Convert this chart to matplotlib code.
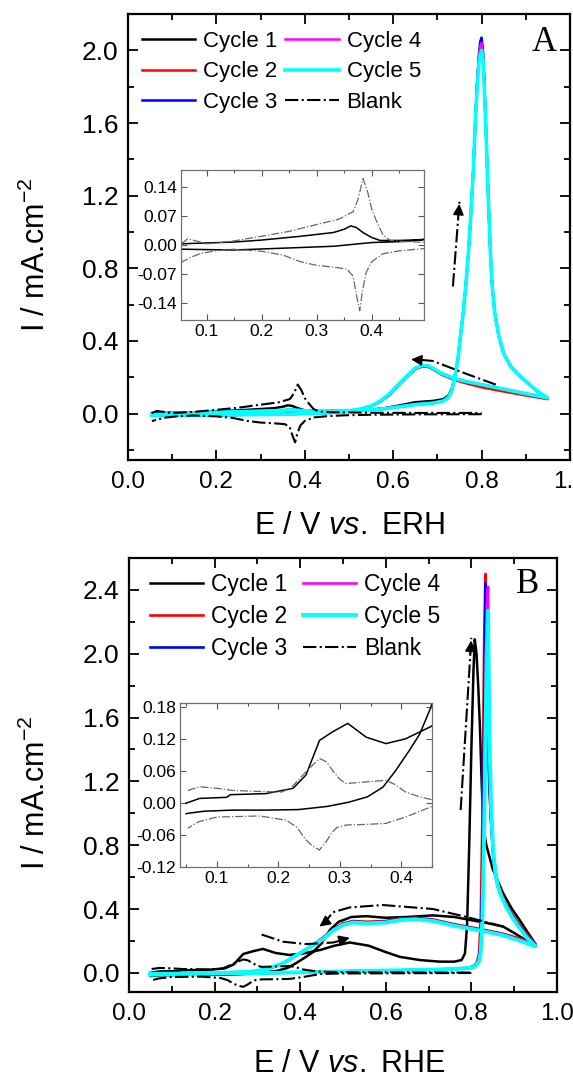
import matplotlib
matplotlib.use('Agg')
import matplotlib.pyplot as plt
from matplotlib.ticker import MultipleLocator, FormatStrFormatter

plt.rcParams['font.family'] = ['Liberation Sans', 'DejaVu Sans']
plt.rcParams['mathtext.fontset'] = 'custom'
plt.rcParams['mathtext.rm'] = 'Liberation Sans'
plt.rcParams['mathtext.it'] = 'Liberation Sans:italic'
plt.rcParams['mathtext.default'] = 'regular'

# ---------------- panel A data ----------------
E_A_fwd = [0.054, 0.10, 0.148, 0.20, 0.27, 0.33, 0.35, 0.362, 0.372, 0.384, 0.40, 0.415, 0.45, 0.49,
           0.54, 0.58, 0.62, 0.65, 0.69,
           0.714, 0.725, 0.733, 0.741, 0.747, 0.752, 0.758, 0.764, 0.77, 0.775, 0.781, 0.786, 0.79,
           0.794, 0.797, 0.80, 0.803, 0.806, 0.809, 0.813, 0.817, 0.82, 0.824, 0.83, 0.839, 0.85,
           0.866, 0.885, 0.904, 0.925, 0.949]
E_A_rev = [0.949, 0.90, 0.85, 0.80, 0.76, 0.737, 0.71, 0.69, 0.677, 0.665, 0.65, 0.63, 0.61, 0.59,
           0.57, 0.55, 0.52, 0.49, 0.45, 0.40, 0.33, 0.25, 0.148, 0.10, 0.054]

A_c1_fwd = [0.003, 0.005, 0.007, 0.012, 0.021, 0.03, 0.038, 0.046, 0.042, 0.03, 0.018, 0.011, 0.011, 0.013,
            0.02, 0.03, 0.048, 0.063, 0.07,
            0.08, 0.1, 0.14, 0.225, 0.31, 0.426, 0.55, 0.70, 0.88, 1.07, 1.33, 1.62, 1.82,
            1.95, 2.0, 2.02, 1.97, 1.82, 1.62, 1.33, 1.07, 0.88, 0.70, 0.55, 0.426, 0.33,
            0.26, 0.21, 0.17, 0.125, 0.087]
A_c1_rev = [0.087, 0.11, 0.13, 0.155, 0.175, 0.19, 0.215, 0.245, 0.26, 0.26, 0.245, 0.2, 0.15, 0.1,
            0.065, 0.04, 0.022, 0.012, 0.008, 0.006, -0.003, -0.007, -0.012, -0.011, -0.01]
A_c2_fwd = [-0.005, 0.0, 0.004, 0.008, 0.012, 0.016, 0.018, 0.02, 0.02, 0.019, 0.016, 0.014, 0.014, 0.016,
            0.02, 0.027, 0.04, 0.05, 0.058,
            0.07, 0.09, 0.13, 0.225, 0.31, 0.426, 0.55, 0.70, 0.88, 1.07, 1.33, 1.62, 1.82,
            1.96, 2.01, 2.03, 1.98, 1.82, 1.62, 1.33, 1.07, 0.88, 0.70, 0.55, 0.426, 0.33,
            0.26, 0.21, 0.17, 0.125, 0.087]
A_c2_rev = [0.08, 0.1, 0.122, 0.145, 0.17, 0.187, 0.215, 0.25, 0.265, 0.265, 0.25, 0.205, 0.155, 0.105,
            0.068, 0.042, 0.022, 0.01, 0.004, 0.0, -0.004, -0.006, -0.008, -0.008, -0.008]
A_c3_fwd = [-0.005, 0.0, 0.004, 0.008, 0.012, 0.016, 0.018, 0.02, 0.02, 0.019, 0.016, 0.014, 0.014, 0.016,
            0.02, 0.027, 0.04, 0.05, 0.058,
            0.07, 0.09, 0.13, 0.225, 0.31, 0.426, 0.55, 0.70, 0.88, 1.07, 1.33, 1.62, 1.83,
            1.98, 2.05, 2.07, 2.0, 1.83, 1.62, 1.33, 1.07, 0.88, 0.70, 0.55, 0.426, 0.33,
            0.26, 0.21, 0.17, 0.125, 0.087]
A_c3_rev = [0.087, 0.11, 0.135, 0.16, 0.18, 0.195, 0.22, 0.25, 0.265, 0.265, 0.25, 0.205, 0.155, 0.105,
            0.068, 0.042, 0.022, 0.01, 0.004, 0.0, -0.004, -0.006, -0.008, -0.008, -0.008]
A_c4_fwd = [-0.005, 0.0, 0.004, 0.008, 0.012, 0.016, 0.018, 0.02, 0.02, 0.019, 0.016, 0.014, 0.014, 0.016,
            0.02, 0.027, 0.04, 0.05, 0.058,
            0.07, 0.09, 0.13, 0.225, 0.31, 0.426, 0.55, 0.70, 0.88, 1.07, 1.33, 1.62, 1.82,
            1.96, 2.02, 2.04, 1.98, 1.82, 1.62, 1.33, 1.07, 0.88, 0.70, 0.55, 0.426, 0.33,
            0.26, 0.21, 0.17, 0.125, 0.087]
A_c4_rev = [0.087, 0.11, 0.135, 0.16, 0.18, 0.195, 0.22, 0.25, 0.265, 0.265, 0.25, 0.205, 0.155, 0.105,
            0.068, 0.042, 0.022, 0.01, 0.004, 0.0, -0.004, -0.006, -0.008, -0.008, -0.008]
A_c5_fwd = [-0.005, 0.0, 0.004, 0.008, 0.012, 0.016, 0.018, 0.02, 0.02, 0.019, 0.016, 0.014, 0.014, 0.016,
            0.02, 0.027, 0.04, 0.05, 0.058,
            0.07, 0.09, 0.13, 0.225, 0.31, 0.426, 0.55, 0.70, 0.88, 1.07, 1.33, 1.62, 1.8,
            1.93, 1.98, 2.0, 1.95, 1.8, 1.62, 1.33, 1.07, 0.88, 0.70, 0.55, 0.426, 0.33,
            0.26, 0.21, 0.17, 0.125, 0.087]
A_c5_rev = [0.087, 0.11, 0.135, 0.16, 0.18, 0.195, 0.22, 0.25, 0.265, 0.265, 0.25, 0.205, 0.155, 0.105,
            0.068, 0.042, 0.022, 0.01, 0.004, 0.0, -0.004, -0.006, -0.008, -0.008, -0.008]

A_blank_fwd_E = [0.054, 0.065, 0.08, 0.10, 0.15, 0.208, 0.25, 0.305, 0.34, 0.366, 0.375, 0.384, 0.392, 0.40,
                 0.409, 0.42, 0.433, 0.46, 0.49, 0.55, 0.65, 0.8]
A_blank_fwd_I = [0.003, 0.015, 0.01, 0.003, 0.01, 0.023, 0.033, 0.051, 0.062, 0.08, 0.11, 0.16, 0.13, 0.085,
                 0.056, 0.025, 0.011, 0.008, 0.007, 0.005, 0.004, 0.004]
A_blank_rev_E = [0.8, 0.65, 0.55, 0.49, 0.45, 0.42, 0.40, 0.39, 0.383, 0.378, 0.372, 0.366, 0.355, 0.33,
                 0.30, 0.27, 0.238, 0.20, 0.148, 0.11, 0.087, 0.07, 0.054]
A_blank_rev_I = [-0.003, -0.004, -0.006, -0.009, -0.014, -0.021, -0.04, -0.065, -0.11, -0.158, -0.12, -0.075,
                 -0.058, -0.053, -0.049, -0.04, -0.024, -0.015, -0.01, -0.015, -0.021, -0.03, -0.041]

# ---------------- panel B data ----------------
E_B_fwd = [0.05, 0.10, 0.20, 0.30, 0.40, 0.48, 0.56, 0.64, 0.71, 0.76, 0.79,
           0.805, 0.812, 0.818, 0.822, 0.826, 0.83, 0.833, 0.836, 0.839, 0.842, 0.846, 0.851, 0.856,
           0.862, 0.87, 0.882, 0.895, 0.91, 0.93, 0.95]
E_B_rev = [0.95, 0.92, 0.874, 0.82, 0.76, 0.71, 0.67, 0.633, 0.60, 0.555, 0.524, 0.50, 0.477, 0.455,
           0.438, 0.41, 0.385, 0.36, 0.33, 0.30, 0.28, 0.20, 0.10, 0.05]

B_c2_fwd = [-0.006, -0.005, -0.004, -0.002, 0.003, 0.008, 0.012, 0.016, 0.02, 0.024, 0.03,
            0.04, 0.06, 0.12, 0.35, 1.0, 2.1, 2.5, 1.9, 1.45, 1.15, 0.95, 0.76, 0.64,
            0.56, 0.5, 0.43, 0.37, 0.31, 0.24, 0.18]
B_c3_fwd = [-0.006, -0.005, -0.004, -0.002, 0.003, 0.008, 0.012, 0.016, 0.02, 0.024, 0.03,
            0.04, 0.055, 0.09, 0.2, 0.6, 1.6, 2.44, 2.2, 1.6, 1.2, 0.95, 0.73, 0.62,
            0.54, 0.48, 0.42, 0.36, 0.3, 0.23, 0.17]
B_c4_fwd = [-0.006, -0.005, -0.004, -0.002, 0.003, 0.008, 0.012, 0.016, 0.02, 0.024, 0.03,
            0.035, 0.05, 0.08, 0.15, 0.4, 1.1, 1.8, 2.3, 2.42, 1.4, 1.0, 0.75, 0.62,
            0.54, 0.48, 0.415, 0.355, 0.295, 0.225, 0.168]
B_c5_fwd = [-0.006, -0.005, -0.004, -0.002, 0.003, 0.008, 0.012, 0.016, 0.02, 0.024, 0.03,
            0.035, 0.05, 0.075, 0.13, 0.35, 0.9, 1.5, 2.0, 2.27, 1.5, 1.05, 0.77, 0.63,
            0.545, 0.48, 0.41, 0.35, 0.29, 0.22, 0.165]
B_c2_rev = [0.18, 0.21, 0.245, 0.275, 0.305, 0.335, 0.345, 0.34, 0.325, 0.32, 0.325, 0.31, 0.275, 0.225,
            0.19, 0.14, 0.1, 0.06, 0.03, 0.012, 0.006, -0.002, -0.008, -0.012]
B_c3_rev = [0.17, 0.2, 0.24, 0.27, 0.3, 0.33, 0.34, 0.335, 0.32, 0.315, 0.32, 0.305, 0.27, 0.22,
            0.19, 0.14, 0.1, 0.06, 0.03, 0.012, 0.006, -0.002, -0.008, -0.012]
B_c4_rev = [0.168, 0.2, 0.238, 0.268, 0.298, 0.328, 0.338, 0.332, 0.318, 0.312, 0.318, 0.302, 0.268, 0.218,
            0.188, 0.14, 0.1, 0.06, 0.03, 0.012, 0.006, -0.002, -0.008, -0.012]
B_c5_rev = [0.165, 0.195, 0.235, 0.265, 0.295, 0.325, 0.335, 0.33, 0.315, 0.31, 0.315, 0.3, 0.265, 0.215,
            0.185, 0.14, 0.1, 0.06, 0.03, 0.012, 0.006, -0.002, -0.008, -0.012]

E_B_c1_fwd = [0.05, 0.072, 0.116, 0.122, 0.18, 0.224, 0.245, 0.267, 0.288, 0.313, 0.343, 0.375, 0.407, 0.448,
              0.48, 0.516, 0.56, 0.60, 0.633, 0.68, 0.726, 0.76, 0.777, 0.785, 0.79, 0.795, 0.80, 0.805, 0.808,
              0.812, 0.816, 0.82, 0.824, 0.828, 0.835, 0.84, 0.85, 0.874, 0.895, 0.913, 0.93, 0.95]
B_c1_fwd = [0.0, 0.009, 0.011, 0.016, 0.018, 0.028, 0.053, 0.118, 0.134, 0.15, 0.124, 0.112, 0.121, 0.144,
            0.17, 0.19, 0.17, 0.13, 0.10, 0.08, 0.07, 0.07, 0.08, 0.12, 0.3, 0.8, 1.4, 1.9, 2.09,
            2.0, 1.8, 1.54, 1.2, 0.91, 0.8, 0.75, 0.65, 0.5, 0.4, 0.33, 0.26, 0.18]
E_B_c1_rev = [0.95, 0.93, 0.90, 0.874, 0.84, 0.80, 0.76, 0.71, 0.65, 0.60, 0.555, 0.52, 0.49, 0.47, 0.448,
              0.43, 0.413, 0.39, 0.37, 0.345, 0.315, 0.28, 0.233, 0.18, 0.125, 0.08, 0.053, 0.05]
B_c1_rev = [0.18, 0.2, 0.25, 0.29, 0.31, 0.33, 0.35, 0.36, 0.35, 0.345, 0.355, 0.35, 0.32, 0.27, 0.18,
            0.13, 0.099, 0.06, 0.03, 0.012, 0.002, -0.006, -0.012, -0.013, -0.013, -0.015, -0.019, -0.02]

B_blank_fwd_E = [0.053, 0.072, 0.10, 0.125, 0.17, 0.205, 0.22, 0.232, 0.25, 0.267, 0.278, 0.288, 0.30, 0.31,
                 0.343, 0.375, 0.39, 0.407, 0.43, 0.448, 0.5, 0.6, 0.7, 0.8]
B_blank_fwd_I = [0.024, 0.031, 0.028, 0.024, 0.022, 0.021, 0.028, 0.043, 0.065, 0.084, 0.078, 0.062, 0.045, 0.037,
                 0.04, 0.043, 0.035, 0.021, 0.012, 0.007, 0.004, 0.003, 0.002, 0.002]
B_blank_rev_E = [0.8, 0.7, 0.6, 0.5, 0.448, 0.407, 0.375, 0.34, 0.31, 0.295, 0.288, 0.278, 0.267, 0.255,
                 0.245, 0.23, 0.213, 0.17, 0.10, 0.07, 0.053]
B_blank_rev_I = [-0.001, -0.002, -0.003, -0.004, -0.007, -0.026, -0.038, -0.04, -0.041, -0.046, -0.054, -0.072,
                 -0.088, -0.08, -0.069, -0.045, -0.032, -0.024, -0.026, -0.035, -0.047]

# arrows (E, I)
A_arrow_up = [(0.735, 0.70), (0.75, 1.17)]
A_arrow_back_E = [0.832, 0.77, 0.69, 0.645]
A_arrow_back_I = [0.16, 0.215, 0.29, 0.30]
B_arrow_up = [(0.775, 1.02), (0.80, 2.10)]
B_arc_E = [0.875, 0.789, 0.71, 0.593, 0.516, 0.477, 0.455]
B_arc_I = [0.29, 0.35, 0.40, 0.425, 0.41, 0.38, 0.31]
B_low_E = [0.31, 0.36, 0.414, 0.477, 0.505]
B_low_I = [0.24, 0.195, 0.18, 0.19, 0.21]

colors = ['black', '#ff0000', '#0000ff', '#ff00ff', '#00ffff']
labels = ['Cycle 1', 'Cycle 2', 'Cycle 3', 'Cycle 4', 'Cycle 5']


def style_axes(ax, ymax, ylo, yhi):
    for s in ax.spines.values():
        s.set_linewidth(1.6)
    ax.set_xlim(0.0, 1.0)
    ax.set_ylim(ylo, yhi)
    ax.xaxis.set_major_locator(MultipleLocator(0.2))
    ax.xaxis.set_minor_locator(MultipleLocator(0.1))
    ax.yaxis.set_major_locator(MultipleLocator(0.4))
    ax.yaxis.set_minor_locator(MultipleLocator(0.2))
    ax.xaxis.set_major_formatter(FormatStrFormatter('%.1f'))
    ax.yaxis.set_major_formatter(FormatStrFormatter('%.1f'))
    ax.tick_params(which='both', direction='in', top=True, right=True, width=1.3)
    ax.tick_params(which='major', length=7)
    ax.tick_params(axis='x', which='major', labelsize=17.5, pad=8)
    ax.tick_params(axis='y', which='major', labelsize=19, pad=7)
    ax.tick_params(which='minor', length=4)
    ax.set_yticks([v / 10 for v in range(0, int(ymax * 10) + 1, 4)])


def style_inset(ax, xlo, xhi, ylo, yhi, ystep):
    for s in ax.spines.values():
        s.set_linewidth(0.9)
        s.set_color('#707070')
    ax.set_xlim(xlo, xhi)
    ax.set_ylim(ylo, yhi)
    ax.xaxis.set_major_locator(MultipleLocator(0.1))
    ax.xaxis.set_minor_locator(MultipleLocator(0.05))
    ax.yaxis.set_major_locator(MultipleLocator(ystep))
    ax.yaxis.set_major_formatter(FormatStrFormatter('%.2f'))
    ax.tick_params(which='both', direction='in', top=True, right=True, width=0.8, color='#555555')
    ax.tick_params(which='major', length=4, labelsize=12.5, pad=3)
    ax.tick_params(which='minor', length=2)


fig = plt.figure(figsize=(5.73, 10.78), dpi=100)

# ================= A =================
axA = fig.add_axes([0.2234, 0.5733, 0.7714, 0.4137])
fwdA = [A_c1_fwd, A_c2_fwd, A_c3_fwd, A_c4_fwd, A_c5_fwd]
revA = [A_c1_rev, A_c2_rev, A_c3_rev, A_c4_rev, A_c5_rev]
for i in range(5):
    lw = 2.6 if i == 4 else 1.8
    axA.plot(E_A_fwd + E_A_rev, fwdA[i] + revA[i], color=colors[i], lw=lw, label=labels[i])
axA.plot(A_blank_fwd_E, A_blank_fwd_I, color='black', lw=1.5, ls='-.', label='Blank')
axA.plot(A_blank_rev_E, A_blank_rev_I, color='black', lw=1.5, ls='-.')

# arrows A
axA.plot([p[0] for p in A_arrow_up], [p[1] for p in A_arrow_up], color='black', lw=1.5, ls='-.')
axA.annotate('', xy=A_arrow_up[1], xytext=(0.747, 1.08),
             arrowprops=dict(arrowstyle='-|>', color='black', lw=1.2, mutation_scale=16))
axA.plot(A_arrow_back_E, A_arrow_back_I, color='black', lw=1.5, ls='-.')
axA.annotate('', xy=(0.634, 0.30), xytext=(0.66, 0.295),
             arrowprops=dict(arrowstyle='-|>', color='black', lw=1.2, mutation_scale=16))

style_axes(axA, 2.0, -0.255, 2.2)
axA.set_xlabel('E / V $\\mathit{vs.}$ ERH', fontsize=22)
axA.set_ylabel('I / mA.cm$^{-2}$', fontsize=22)
axA.xaxis.set_label_coords(0.5, -0.115)
axA.yaxis.set_label_coords(-0.172, 0.46)
axA.text(0.941, 0.937, 'A', transform=axA.transAxes, fontsize=25, family='Liberation Serif',
         ha='center', va='center')

axA.legend(ncol=2, loc='upper left', bbox_to_anchor=(0.032, 0.962), frameon=False, fontsize=16,
           borderpad=0, borderaxespad=0, handlelength=2.4, handletextpad=0.35, labelspacing=0.42,
           columnspacing=0.35)

# inset A
inA = fig.add_axes([0.316, 0.7032, 0.424, 0.139])
inA.plot(E_A_fwd + E_A_rev, A_c1_fwd + A_c1_rev, color='black', lw=1.1)
inA.plot(A_blank_fwd_E, A_blank_fwd_I, color='#666666', lw=0.9, ls='-.')
inA.plot(A_blank_rev_E, A_blank_rev_I, color='#666666', lw=0.9, ls='-.')
style_inset(inA, 0.053, 0.495, -0.18, 0.18, 0.07)
inA.set_yticks([-0.14, -0.07, 0.0, 0.07, 0.14])

# ================= B =================
axB = fig.add_axes([0.2251, 0.0798, 0.7469, 0.4026])
axB.plot(E_B_c1_fwd + E_B_c1_rev, B_c1_fwd + B_c1_rev, color=colors[0], lw=1.8, label=labels[0])
fwdB = [B_c2_fwd, B_c3_fwd, B_c4_fwd, B_c5_fwd]
revB = [B_c2_rev, B_c3_rev, B_c4_rev, B_c5_rev]
for i in range(4):
    lw = 2.8 if i == 3 else 1.9
    axB.plot(E_B_fwd + E_B_rev, fwdB[i] + revB[i], color=colors[i + 1], lw=lw, label=labels[i + 1])
axB.plot(B_blank_fwd_E, B_blank_fwd_I, color='black', lw=1.5, ls='-.', label='Blank')
axB.plot(B_blank_rev_E, B_blank_rev_I, color='black', lw=1.5, ls='-.')

axB.plot([p[0] for p in B_arrow_up], [p[1] for p in B_arrow_up], color='black', lw=1.5, ls='-.')
axB.annotate('', xy=B_arrow_up[1], xytext=(0.797, 1.98),
             arrowprops=dict(arrowstyle='-|>', color='black', lw=1.2, mutation_scale=16))
axB.plot(B_arc_E, B_arc_I, color='black', lw=1.5, ls='-.')
axB.annotate('', xy=(0.44, 0.28), xytext=(0.455, 0.31),
             arrowprops=dict(arrowstyle='-|>', color='black', lw=1.2, mutation_scale=16))
axB.plot(B_low_E, B_low_I, color='black', lw=1.5, ls='-.')
axB.annotate('', xy=(0.522, 0.225), xytext=(0.5, 0.208),
             arrowprops=dict(arrowstyle='-|>', color='black', lw=1.2, mutation_scale=16))

style_axes(axB, 2.4, -0.12, 2.6)
axB.set_xlabel('E / V $\\mathit{vs.}$ RHE', fontsize=22)
axB.set_ylabel('I / mA.cm$^{-2}$', fontsize=22)
axB.xaxis.set_label_coords(0.514, -0.132)
axB.yaxis.set_label_coords(-0.18, 0.458)
axB.text(0.932, 0.938, 'B', transform=axB.transAxes, fontsize=25, family='Liberation Serif',
         ha='center', va='center')
axB.legend(ncol=2, loc='upper left', bbox_to_anchor=(0.049, 0.965), frameon=False, fontsize=16.5,
           borderpad=0, borderaxespad=0, handlelength=2.3, handletextpad=0.35, labelspacing=0.4,
           columnspacing=0.7)

# inset B
inB = fig.add_axes([0.314, 0.1957, 0.44, 0.152])
inB.plot(E_B_c1_fwd + E_B_c1_rev, B_c1_fwd + B_c1_rev, color='black', lw=1.1)
inB.plot(B_blank_fwd_E, B_blank_fwd_I, color='#666666', lw=0.9, ls='-.')
inB.plot(B_blank_rev_E, B_blank_rev_I, color='#666666', lw=0.9, ls='-.')
style_inset(inB, 0.04, 0.45, -0.12, 0.188, 0.06)
inB.set_yticks([-0.12, -0.06, 0.0, 0.06, 0.12, 0.18])

fig.savefig('out.png', dpi=100)
